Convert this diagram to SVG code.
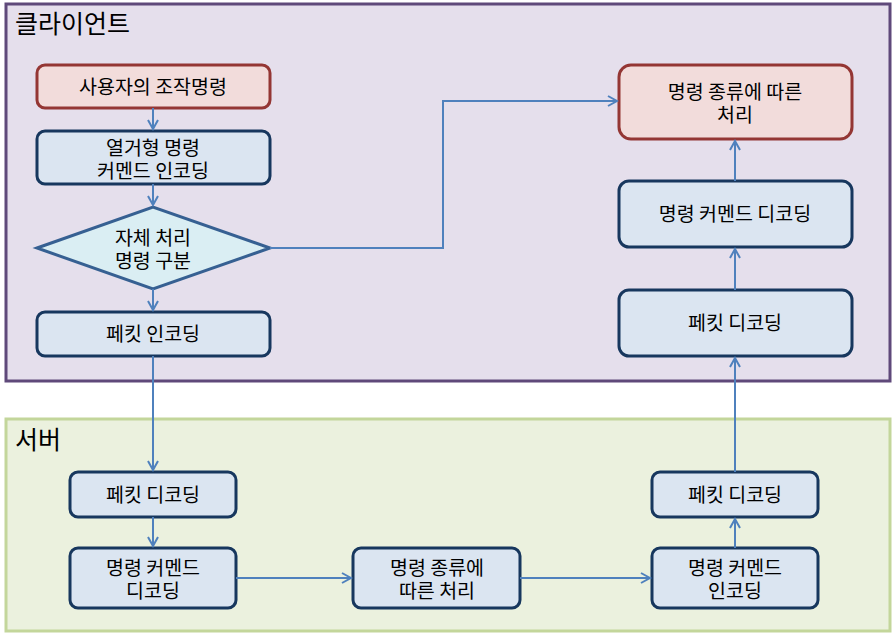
<svg xmlns="http://www.w3.org/2000/svg" width="893" height="634" viewBox="0 0 893 634">
<defs>
<marker id="arr" markerWidth="12" markerHeight="12" refX="10" refY="6" orient="auto" markerUnits="userSpaceOnUse">
<path d="M1,1 L10,6 L1,11" fill="none" stroke="#4f81bd" stroke-width="2"/>
</marker>
</defs>
<style>
text{font-family:"Noto Sans CJK KR","Malgun Gothic",sans-serif;fill:#000;}
.t{font-size:19.5px;text-anchor:middle;}
.title{font-size:25px;}
.red{fill:#f2dcdb;stroke:#943634;stroke-width:3;}
.blue{fill:#dbe5f1;stroke:#17375e;stroke-width:3;}
.diam{fill:#daeef3;stroke:#366092;stroke-width:3;}
.c{fill:none;stroke:#4f81bd;stroke-width:2;marker-end:url(#arr);}
</style>
<g id="client">
<rect x="6" y="4" width="884" height="377" fill="#e5dfec" stroke="#5f497a" stroke-width="3"/>
<text class="title" x="15" y="33">클라이언트</text>
</g>
<g id="server">
<rect x="6" y="419" width="884" height="212" fill="#ebf1de" stroke="#c3d69b" stroke-width="3"/>
<text class="title" x="15" y="449">서버</text>
</g>
<g id="n1"><rect class="red" x="37" y="65" width="233" height="43" rx="8"/><text class="t" x="153" y="94">사용자의 조작명령</text></g>
<g id="n2"><rect class="blue" x="37" y="131" width="233" height="53" rx="8"/><text class="t" x="153" y="155">열거형 명령</text><text class="t" x="153" y="178">커멘드 인코딩</text></g>
<g id="n3"><polygon class="diam" points="37,248 153,207 270,248 153,289"/><text class="t" x="153" y="245">자체 처리</text><text class="t" x="153" y="268">명령 구분</text></g>
<g id="n4"><rect class="blue" x="37" y="312" width="233" height="44" rx="8"/><text class="t" x="153" y="341">페킷 인코딩</text></g>
<g id="n5"><rect class="red" x="619" y="65" width="233" height="74" rx="12"/><text class="t" x="735" y="99">명령 종류에 따른</text><text class="t" x="735" y="122">처리</text></g>
<g id="n6"><rect class="blue" x="619" y="181" width="233" height="66" rx="10"/><text class="t" x="735" y="221">명령 커멘드 디코딩</text></g>
<g id="n7"><rect class="blue" x="619" y="290" width="233" height="66" rx="10"/><text class="t" x="735" y="330">페킷 디코딩</text></g>
<g id="n8"><rect class="blue" x="70" y="472" width="166" height="45" rx="8"/><text class="t" x="153" y="502">페킷 디코딩</text></g>
<g id="n9"><rect class="blue" x="70" y="548" width="166" height="60" rx="8"/><text class="t" x="153" y="575">명령 커멘드</text><text class="t" x="153" y="598">디코딩</text></g>
<g id="n10"><rect class="blue" x="353" y="548" width="167" height="60" rx="8"/><text class="t" x="437" y="575">명령 종류에</text><text class="t" x="437" y="598">따른 처리</text></g>
<g id="n11"><rect class="blue" x="652" y="548" width="166" height="60" rx="8"/><text class="t" x="735" y="575">명령 커멘드</text><text class="t" x="735" y="598">인코딩</text></g>
<g id="n12"><rect class="blue" x="652" y="472" width="166" height="45" rx="8"/><text class="t" x="735" y="502">페킷 디코딩</text></g>
<g id="connectors">
<path class="c" d="M153,108 V129"/>
<path class="c" d="M153,184 V205"/>
<path class="c" d="M153,289 V310"/>
<path class="c" d="M270,248 H443 V101 H617"/>
<path class="c" d="M153,356 V470"/>
<path class="c" d="M153,517 V546"/>
<path class="c" d="M236,578 H351"/>
<path class="c" d="M520,578 H650"/>
<path class="c" d="M735,548 V519"/>
<path class="c" d="M735,472 V358"/>
<path class="c" d="M735,290 V249"/>
<path class="c" d="M735,181 V141"/>
</g>
</svg>
